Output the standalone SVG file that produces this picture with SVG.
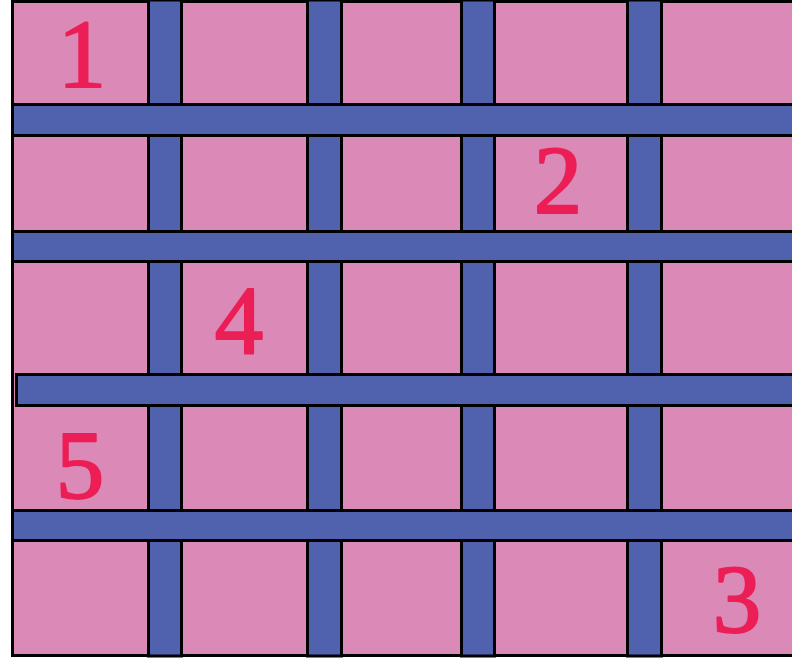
<svg xmlns="http://www.w3.org/2000/svg" width="792" height="662" viewBox="0 0 792 662">
<style>
.bar{fill:#5061AD;stroke:#000;stroke-width:3}
.num{fill:#EC1E56;stroke:#EC1E56;stroke-width:2;stroke-linejoin:round;font-family:"Liberation Serif","DejaVu Serif",serif;font-size:97px;text-anchor:middle}
</style>
<rect width="792" height="662" fill="#fff"/>
<g id="frame"><rect x="12.5" y="1.5" width="790" height="654" fill="#DB8AB8" stroke="#000" stroke-width="3"/></g>
<g id="vbars">
<rect class="bar" x="148.5" y="0" width="33" height="656"/>
<rect class="bar" x="307.5" y="0" width="34" height="656"/>
<rect class="bar" x="461.5" y="0" width="33" height="656"/>
<rect class="bar" x="627.5" y="0" width="34" height="656"/>
</g>
<g id="hbars">
<rect class="bar" x="12.5" y="104.5" width="790" height="31"/>
<rect class="bar" x="12.5" y="231.5" width="790" height="30"/>
<rect class="bar" x="16.5" y="374.5" width="786" height="31"/>
<rect class="bar" x="12.5" y="510.5" width="790" height="30"/>
</g>
<g id="labels">
<text class="num" x="82" y="87">1</text>
<text class="num" x="558" y="213">2</text>
<text class="num" x="737" y="632">3</text>
<text class="num" x="239" y="353">4</text>
<text class="num" x="80" y="498">5</text>
</g>
</svg>
